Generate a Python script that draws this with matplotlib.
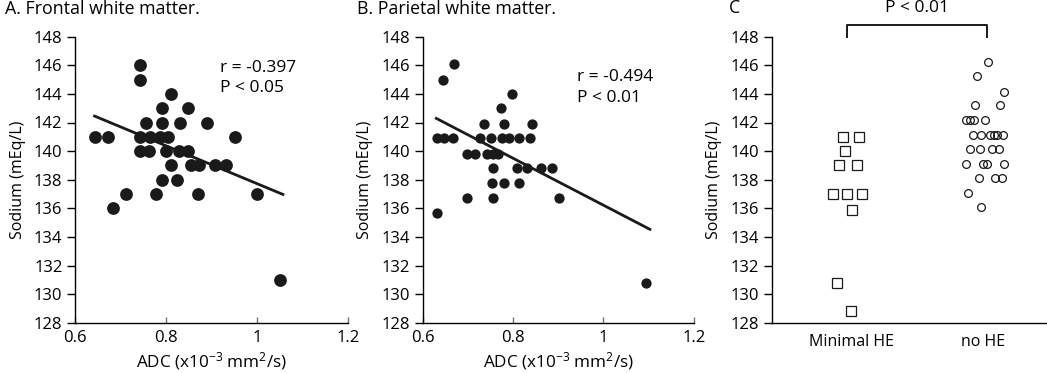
import matplotlib
matplotlib.use("Agg")
import matplotlib.pyplot as plt
import numpy as np

plt.rcParams['font.family'] = ['Open Sans', 'DejaVu Sans']
plt.rcParams['mathtext.fontset'] = 'custom'
plt.rcParams['mathtext.rm'] = 'Open Sans'
plt.rcParams['mathtext.it'] = 'Open Sans:italic'

# ---------------- data ----------------
# Panel A: frontal white matter
adc_a = [0.644, 0.672, 0.683, 0.711, 0.743, 0.743, 0.743, 0.743, 0.755, 0.763,
         0.765, 0.778, 0.787, 0.791, 0.792, 0.792, 0.805, 0.800, 0.811, 0.811,
         0.824, 0.830, 0.829, 0.849, 0.849, 0.855, 0.873, 0.870, 0.890, 0.907,
         0.932, 0.952, 1.001, 1.050]
na_a = [141, 141, 136, 137, 146, 145, 141, 140, 142, 140,
        141, 137, 141, 143, 142, 138, 141, 140, 144, 139,
        138, 142, 140, 143, 140, 139, 139, 137, 142, 139,
        139, 141, 137, 131]
fit_a_x = [0.643, 1.057]
fit_a_y = [142.45, 136.97]
stats_a = ["r = -0.397", "P < 0.05"]

# Panel B: parietal white matter
adc_b = [0.631, 0.647, 0.666, 0.646, 0.670, 0.631, 0.699, 0.697, 0.716, 0.726,
         0.735, 0.743, 0.751, 0.756, 0.756, 0.754, 0.756, 0.767, 0.773, 0.775,
         0.779, 0.779, 0.792, 0.797, 0.808, 0.813, 0.814, 0.830, 0.838, 0.841,
         0.863, 0.886, 0.902, 1.094]
na_b = [140.9, 140.9, 140.9, 145.0, 146.1, 135.7, 136.7, 139.8, 139.8, 140.9,
        141.9, 139.8, 140.9, 139.8, 138.8, 137.8, 136.7, 139.8, 143.0, 140.9,
        141.9, 137.8, 140.9, 144.0, 138.8, 140.9, 137.8, 138.8, 140.9, 141.9,
        138.8, 138.8, 136.7, 130.8]
fit_b_x = [0.630, 1.103]
fit_b_y = [142.29, 134.53]
stats_b = ["r = -0.494", "P < 0.01"]

# Panel C: groups
groups = ["Minimal HE", "no HE"]
jit_min = [-0.068, 0.056, -0.051, -0.096, 0.038, -0.139, -0.033, 0.076, 0.005, -0.114, -0.008]
na_min = [141.0, 141.0, 140.0, 139.0, 139.0, 137.0, 137.0, 137.0, 135.9, 130.8, 128.8]
jit_no = [0.033, -0.050, 0.152, -0.068, 0.122,
          -0.131, -0.101, -0.071, 0.013,
          -0.081, -0.017, 0.046, 0.076, 0.106, 0.147,
          -0.101, -0.025, 0.064, 0.114,
          -0.131, -0.005, 0.026, 0.152,
          -0.038, 0.089, 0.140,
          -0.114, -0.017]
na_no = [146.2, 145.25, 144.15, 143.2, 143.2,
         142.17, 142.17, 142.17, 142.17,
         141.15, 141.15, 141.15, 141.15, 141.15, 141.15,
         140.12, 140.12, 140.12, 140.12,
         139.1, 139.1, 139.1, 139.1,
         138.1, 138.1, 138.1,
         137.05, 136.1]
p_c = "P < 0.01"

yticks = [128, 130, 132, 134, 136, 138, 140, 142, 144, 146, 148]
xticks_ab = [0.6, 0.8, 1.0, 1.2]
xticklabels_ab = ["0.6", "0.8", "1", "1.2"]
titles = ["A. Frontal white matter.", "B. Parietal white matter.", "C"]

# ---------------- figure ----------------
W, H = 1047, 373
fig = plt.figure(figsize=(W / 100, H / 100), dpi=100)

def px_axes(left, right, top, bottom):
    return fig.add_axes([left / W, 1 - bottom / H, (right - left) / W, (bottom - top) / H])

axA = px_axes(75, 348, 36.7, 322.7)
axB = px_axes(422.7, 693.7, 36.7, 322.7)
axC = px_axes(771.7, 1047, 36.7, 322.7)

TICK_FS = 12
LAB_FS = 11.5
STAT_FS = 12.5

for ax in (axA, axB, axC):
    ax.spines['top'].set_visible(False)
    ax.spines['right'].set_visible(False)
    ax.spines['left'].set_linewidth(1.0)
    ax.spines['bottom'].set_linewidth(1.0)
    ax.set_ylim(128, 148)
    ax.set_yticks(yticks)
    ax.tick_params(axis='y', direction='out', length=6, width=1.0, pad=3, labelsize=TICK_FS)
    ax.set_ylabel("Sodium (mEq/L)", fontsize=LAB_FS, labelpad=6)
    ax.set_facecolor('none')

xlabel = "ADC (x10$^{-3}$ mm$^{2}$/s)"
for ax, x, y, fx, fy, ms in ((axA, adc_a, na_a, fit_a_x, fit_a_y, 9.2),
                             (axB, adc_b, na_b, fit_b_x, fit_b_y, 7.4)):
    ax.set_xlim(0.6, 1.2)
    ax.set_xticks(xticks_ab)
    ax.set_xticklabels(xticklabels_ab)
    ax.tick_params(axis='x', direction='in', length=4, width=1.0, color='0.45', pad=5,
                   labelsize=TICK_FS)
    ax.set_xlabel(xlabel, fontsize=12.3, labelpad=3)
    ax.plot(x, y, 'o', color='#1a1a1a', markersize=ms, markeredgewidth=0, clip_on=False, zorder=3)
    ax.plot(fx, fy, '-', color='#1a1a1a', lw=2.0, zorder=2)

axA.text(0.919, 145.8, stats_a[0], fontsize=STAT_FS, va='center', ha='left')
axA.text(0.919, 144.4, stats_a[1], fontsize=STAT_FS, va='center', ha='left')
axB.text(0.942, 145.2, stats_b[0], fontsize=STAT_FS, va='center', ha='left')
axB.text(0.942, 143.7, stats_b[1], fontsize=STAT_FS, va='center', ha='left')

# Panel C
axC.set_xlim(-0.608, 1.482)
axC.set_xticks([0, 1])
axC.set_xticklabels(groups)
axC.tick_params(axis='x', length=0, pad=8, labelsize=LAB_FS)
xmin = [0 + j for j in jit_min]
xno = [1 + j for j in jit_no]
axC.plot(xmin, na_min, 's', mfc='white', mec='#1a1a1a', mew=0.9, markersize=7.2, clip_on=False, zorder=3)
axC.plot(xno, na_no, 'o', mfc='none', mec='#1a1a1a', mew=0.9, markersize=5.6, clip_on=False, zorder=3)
# significance bracket
axC.plot([-0.04, -0.04, 1.025, 1.025], [148.0, 148.8, 148.8, 148.0], '-', color='#1a1a1a',
         lw=1.4, clip_on=False)
axC.text(0.494, 150.0, p_c, fontsize=STAT_FS, ha='center', va='center')

# panel titles
fig.text(5 / W, 1 - 9 / H, titles[0], fontsize=12.8, va='center', ha='left')
fig.text(356.7 / W, 1 - 9 / H, titles[1], fontsize=12.8, va='center', ha='left')
fig.text(729 / W, 1 - 8 / H, titles[2], fontsize=12.8, va='center', ha='left')

fig.savefig("out.png", dpi=100)
